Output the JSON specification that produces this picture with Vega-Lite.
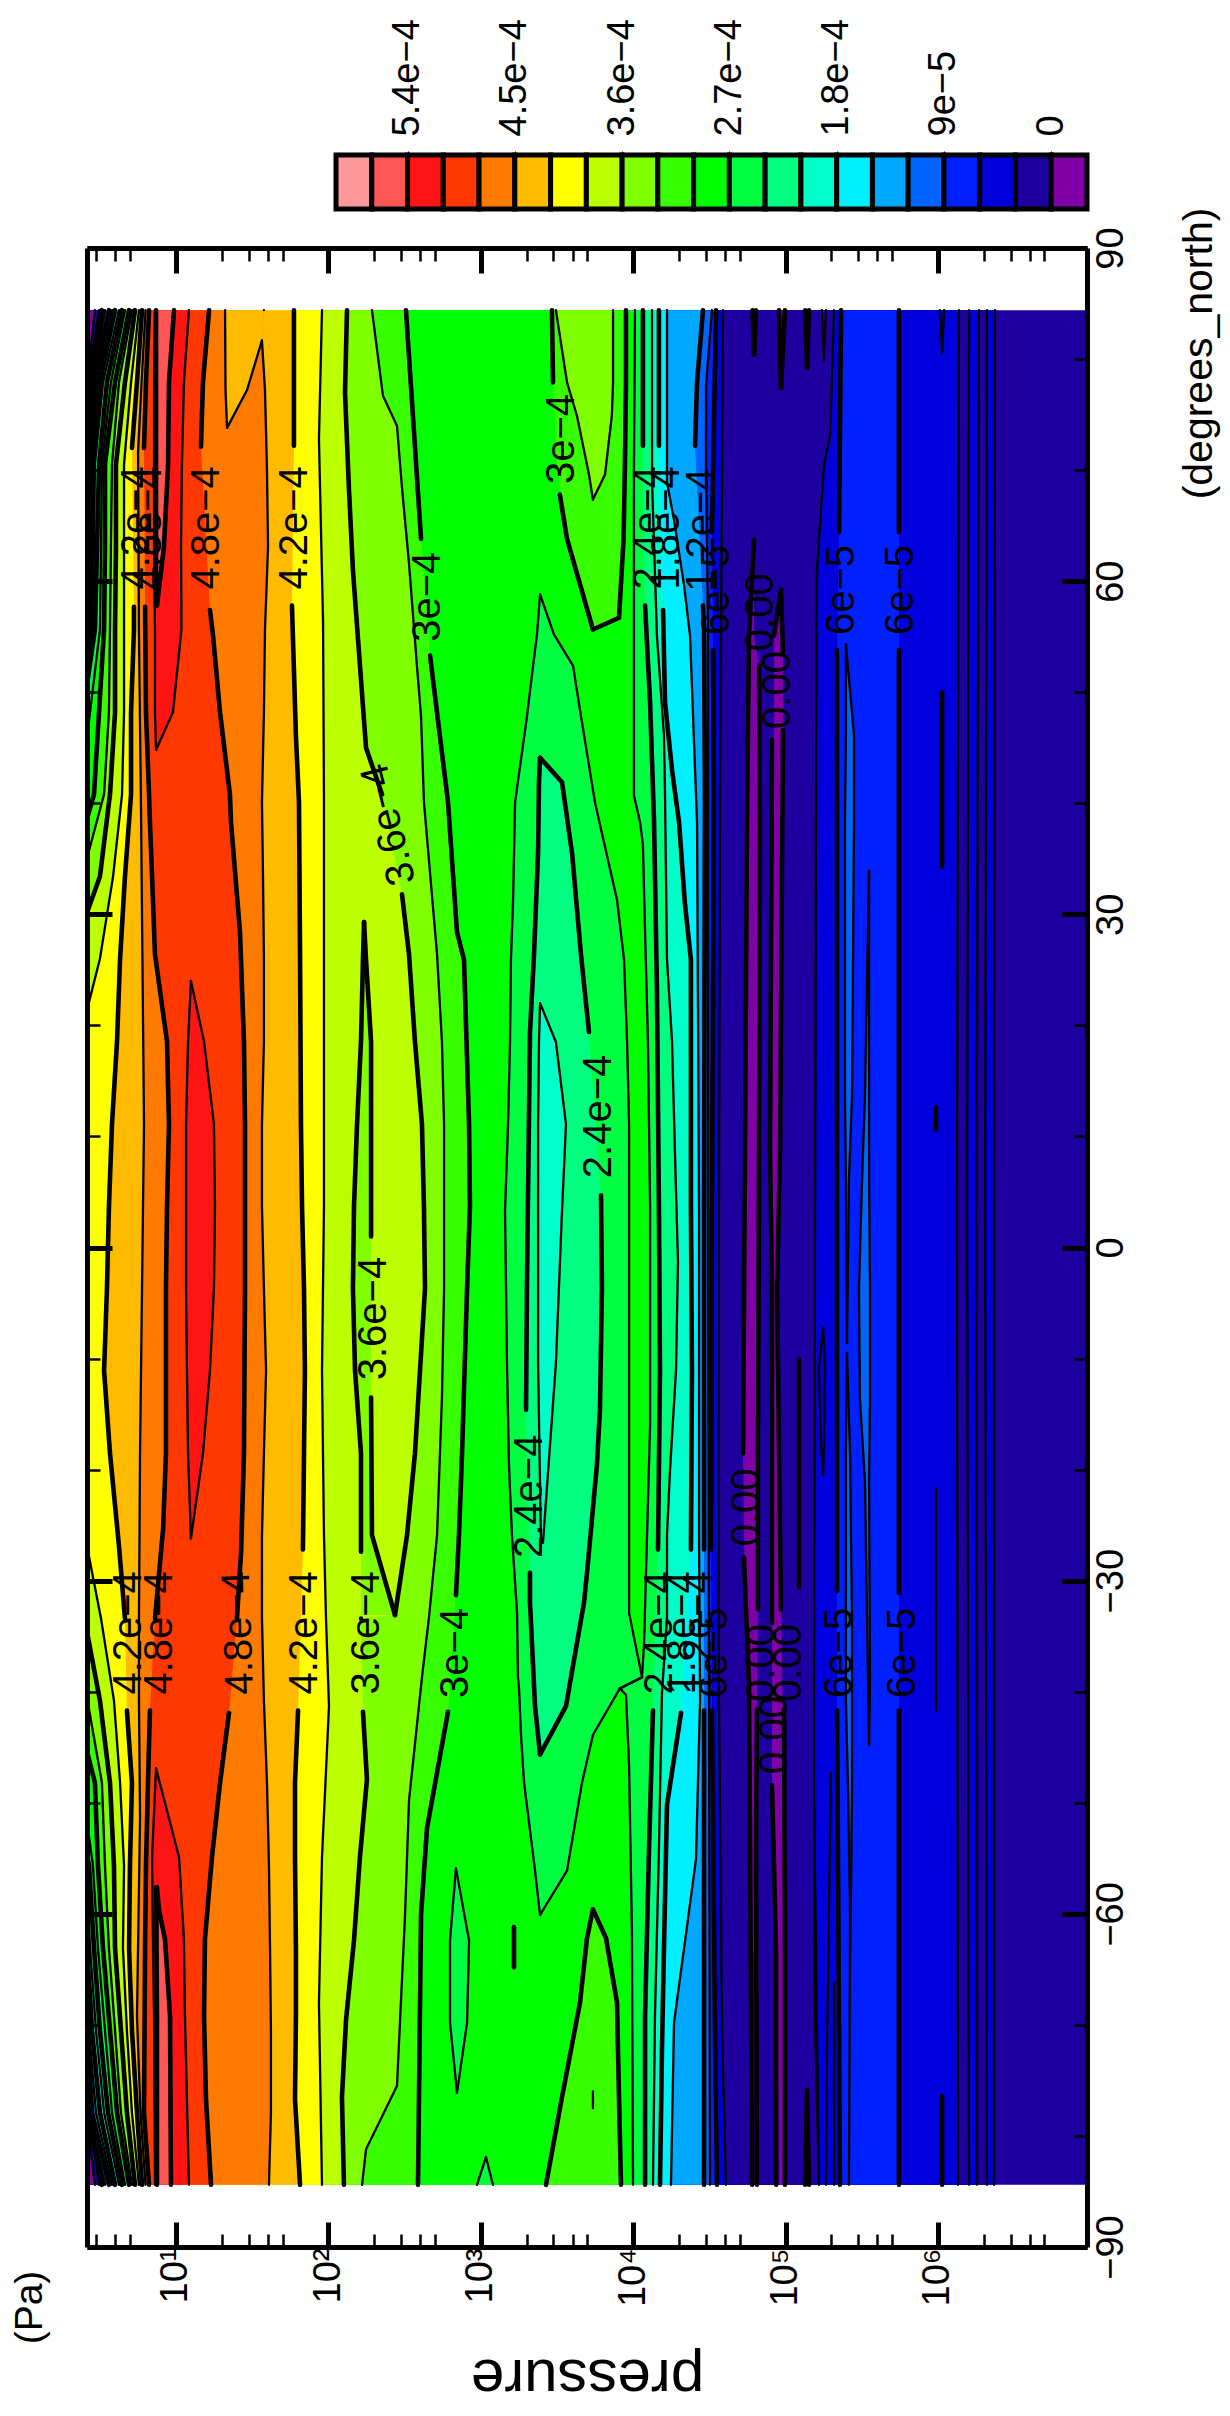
{"$schema":"https://vega.github.io/schema/vega-lite/v6.json","background":"white","padding":{"left":10,"top":18,"right":5,"bottom":5},"config":{"view":{"stroke":null},"font":"Liberation Sans","text":{"font":"Liberation Sans"}},
"resolve":{"scale":{"color":"independent"}},
"datasets":{
"bar":[{"b":"c20","lo":5.7e-4,"hi":6e-4},{"b":"c19","lo":5.4e-4,"hi":5.7e-4},{"b":"c18","lo":5.1e-4,"hi":5.4e-4},{"b":"c17","lo":4.8e-4,"hi":5.1e-4},{"b":"c16","lo":4.5e-4,"hi":4.8e-4},{"b":"c15","lo":4.2e-4,"hi":4.5e-4},{"b":"c14","lo":3.9e-4,"hi":4.2e-4},{"b":"c13","lo":3.6e-4,"hi":3.9e-4},{"b":"c12","lo":3.3e-4,"hi":3.6e-4},{"b":"c11","lo":3e-4,"hi":3.3e-4},{"b":"c10","lo":2.7e-4,"hi":3e-4},{"b":"c09","lo":2.4e-4,"hi":2.7e-4},{"b":"c08","lo":2.1e-4,"hi":2.4e-4},{"b":"c07","lo":1.8e-4,"hi":2.1e-4},{"b":"c06","lo":1.5e-4,"hi":1.8e-4},{"b":"c05","lo":1.2e-4,"hi":1.5e-4},{"b":"c04","lo":9e-5,"hi":1.2e-4},{"b":"c03","lo":6e-5,"hi":9e-5},{"b":"c02","lo":3e-5,"hi":6e-5},{"b":"c01","lo":0,"hi":3e-5},{"b":"c00","lo":-3e-5,"hi":0}],
"main":[
{"k":"a00","lat":84.4,"p":6.978},{"k":"a00","lat":-84.4,"p":6.978},
{"k":"a01","lat":84.4,"p":6.374},{"k":"a01","lat":3.7,"p":6.368},{"k":"a01","lat":-84.4,"p":6.368},
{"k":"a02","lat":84.4,"p":6.322},{"k":"a02","lat":3.7,"p":6.309},{"k":"a02","lat":-84.4,"p":6.322},
{"k":"a03","lat":84.4,"p":6.269},{"k":"a03","lat":3.7,"p":6.253},{"k":"a03","lat":-84.4,"p":6.256},
{"k":"a04","lat":84.4,"p":6.204},{"k":"a04","lat":3.7,"p":6.191},{"k":"a04","lat":-84.4,"p":6.204},
{"k":"a05","lat":84.4,"p":6.138},{"k":"a05","lat":3.7,"p":6.125},{"k":"a05","lat":-84.4,"p":6.132},
{"k":"a06","lat":84.4,"p":5.744},{"k":"a06","lat":64.4,"p":5.744},{"k":"a06","lat":59,"p":null},{"k":"a06","lat":53.8,"p":5.744},{"k":"a06","lat":-31.1,"p":5.744},{"k":"a06","lat":-37,"p":null},{"k":"a06","lat":-41.7,"p":5.744},{"k":"a06","lat":-84.4,"p":5.744},
{"k":"a07","lat":84.4,"p":5.364},{"k":"a07","lat":64.4,"p":5.351},{"k":"a07","lat":59,"p":null},{"k":"a07","lat":53.8,"p":5.338},{"k":"a07","lat":-30.9,"p":5.338},{"k":"a07","lat":-37,"p":null},{"k":"a07","lat":-41.7,"p":5.338},{"k":"a07","lat":-70.5,"p":5.351},{"k":"a07","lat":-84.4,"p":5.357},
{"k":"a08","lat":84.4,"p":5.318},{"k":"a08","lat":73.1,"p":5.292},{"k":"a08","lat":70.4,"p":5.252},{"k":"a08","lat":61,"p":5.206},{"k":"a08","lat":38.3,"p":5.199},{"k":"a08","lat":0,"p":5.193},{"k":"a08","lat":-39.2,"p":5.187},{"k":"a08","lat":-66.2,"p":5.187},{"k":"a08","lat":-84.4,"p":5.219},
{"k":"a09","lat":84.4,"p":4.589},{"k":"a09","lat":40.8,"p":4.57},{"k":"a09","lat":3.7,"p":4.563},{"k":"a09","lat":-40.8,"p":4.563},{"k":"a09","lat":-70.5,"p":4.583},{"k":"a09","lat":-84.4,"p":4.609},
{"k":"a10","lat":84.4,"p":4.544},{"k":"a10","lat":64.4,"p":4.517},{"k":"a10","lat":59,"p":null},{"k":"a10","lat":53.8,"p":4.524},{"k":"a10","lat":40.8,"p":4.53},{"k":"a10","lat":3.7,"p":4.517},{"k":"a10","lat":-27.2,"p":4.511},{"k":"a10","lat":-35,"p":null},{"k":"a10","lat":-41.7,"p":4.517},{"k":"a10","lat":-70.5,"p":4.537},{"k":"a10","lat":-84.4,"p":4.55},
{"k":"a11","lat":84.4,"p":4.517},{"k":"a11","lat":77.6,"p":4.478},{"k":"a11","lat":70.5,"p":4.478},{"k":"a11","lat":55.65,"p":4.491},{"k":"a11","lat":3.7,"p":4.491},{"k":"a11","lat":-40.8,"p":4.498},{"k":"a11","lat":-84.4,"p":4.504},
{"k":"a12","lat":84.4,"p":4.458},{"k":"a12","lat":77.9,"p":4.419},{"k":"a12","lat":72.2,"p":4.406},{"k":"a12","lat":65,"p":null},{"k":"a12","lat":57.8,"p":4.458},{"k":"a12","lat":55.65,"p":4.465},{"k":"a12","lat":40.8,"p":4.471},{"k":"a12","lat":3.7,"p":4.465},{"k":"a12","lat":-27.2,"p":4.465},{"k":"a12","lat":-35,"p":null},{"k":"a12","lat":-41.7,"p":4.465},{"k":"a12","lat":-84.4,"p":4.465},
{"k":"a13","lat":84.4,"p":4.222},{"k":"a13","lat":68.9,"p":4.222},{"k":"a13","lat":65.5,"p":4.268},{"k":"a13","lat":59.6,"p":4.334},{"k":"a13","lat":55.1,"p":4.373},{"k":"a13","lat":38.3,"p":4.419},{"k":"a13","lat":3.7,"p":4.432},{"k":"a13","lat":-26,"p":4.432},{"k":"a13","lat":-40.8,"p":4.439},{"k":"a13","lat":-55.1,"p":4.412},{"k":"a13","lat":-63.1,"p":4.334},{"k":"a13","lat":-69.8,"p":4.268},{"k":"a13","lat":-84.4,"p":4.248},
{"k":"a14","lat":84.4,"p":4.169},{"k":"a14","lat":72.2,"p":4.169},{"k":"a14","lat":65,"p":null},{"k":"a14","lat":57.4,"p":4.196},{"k":"a14","lat":49.1,"p":4.209},{"k":"a14","lat":43,"p":4.255},{"k":"a14","lat":38.3,"p":4.301},{"k":"a14","lat":30.9,"p":4.34},{"k":"a14","lat":25.9,"p":4.379},{"k":"a14","lat":3.7,"p":4.379},{"k":"a14","lat":-11.1,"p":4.386},{"k":"a14","lat":-27.2,"p":4.379},{"k":"a14","lat":-35,"p":null},{"k":"a14","lat":-41.9,"p":4.314},{"k":"a14","lat":-50.2,"p":4.222},{"k":"a14","lat":-63.2,"p":4.202},{"k":"a14","lat":-72.2,"p":4.189},{"k":"a14","lat":-84.4,"p":4.176},
{"k":"a15","lat":84.4,"p":4.124},{"k":"a15","lat":68.9,"p":4.124},{"k":"a15","lat":55.1,"p":4.156},{"k":"a15","lat":46.1,"p":4.202},{"k":"a15","lat":40.8,"p":4.209},{"k":"a15","lat":25.9,"p":4.222},{"k":"a15","lat":18.55,"p":4.255},{"k":"a15","lat":8.6,"p":4.274},{"k":"a15","lat":-1.3,"p":4.294},{"k":"a15","lat":-11.1,"p":4.281},{"k":"a15","lat":-20,"p":4.242},{"k":"a15","lat":-25.9,"p":4.222},{"k":"a15","lat":-33.3,"p":4.222},{"k":"a15","lat":-40.1,"p":4.189},{"k":"a15","lat":-54.2,"p":4.169},{"k":"a15","lat":-69.2,"p":4.143},{"k":"a15","lat":-84.4,"p":4.13},
{"k":"a16","lat":84.4,"p":4.064},{"k":"a16","lat":72.2,"p":4.064},{"k":"a16","lat":65,"p":null},{"k":"a16","lat":57.8,"p":4.078},{"k":"a16","lat":49.1,"p":4.111},{"k":"a16","lat":38.3,"p":4.137},{"k":"a16","lat":23.4,"p":4.156},{"k":"a16","lat":3.7,"p":4.169},{"k":"a16","lat":-11.1,"p":4.176},{"k":"a16","lat":-27.2,"p":4.163},{"k":"a16","lat":-35,"p":null},{"k":"a16","lat":-41.7,"p":4.13},{"k":"a16","lat":-54.2,"p":4.104},{"k":"a16","lat":-69.2,"p":4.078},{"k":"a16","lat":-84.4,"p":4.078},
{"k":"a17","lat":84.4,"p":4.012},{"k":"a17","lat":70.05,"p":4.005},{"k":"a17","lat":40.7,"p":4.005},{"k":"a17","lat":38.3,"p":4.045},{"k":"a17","lat":36.3,"p":4.064},{"k":"a17","lat":28.4,"p":4.078},{"k":"a17","lat":18.55,"p":4.097},{"k":"a17","lat":3.7,"p":4.111},{"k":"a17","lat":-16,"p":4.111},{"k":"a17","lat":-25.9,"p":4.091},{"k":"a17","lat":-35.8,"p":4.071},{"k":"a17","lat":-38.7,"p":4.058},{"k":"a17","lat":-39.7,"p":3.913},{"k":"a17","lat":-40.3,"p":3.953},{"k":"a17","lat":-46.6,"p":3.973},{"k":"a17","lat":-61.7,"p":3.992},{"k":"a17","lat":-84.4,"p":3.999},
{"k":"a18","lat":84.4,"p":2.509},{"k":"a18","lat":63.8,"p":2.608},{"k":"a18","lat":58,"p":null},{"k":"a18","lat":53.3,"p":2.667},{"k":"a18","lat":40.1,"p":2.785},{"k":"a18","lat":28.4,"p":2.844},{"k":"a18","lat":25.9,"p":2.89},{"k":"a18","lat":11.1,"p":2.923},{"k":"a18","lat":3.7,"p":2.929},{"k":"a18","lat":-3.7,"p":2.91},{"k":"a18","lat":-18.55,"p":2.877},{"k":"a18","lat":-25.9,"p":2.857},{"k":"a18","lat":-31.3,"p":2.837},{"k":"a18","lat":-36,"p":null},{"k":"a18","lat":-41.8,"p":2.785},{"k":"a18","lat":-52.3,"p":2.647},{"k":"a18","lat":-60.1,"p":2.608},{"k":"a18","lat":-84.4,"p":2.588},
{"k":"a19","lat":84.4,"p":2.286},{"k":"a19","lat":76.7,"p":2.358},{"k":"a19","lat":74,"p":2.45},{"k":"a19","lat":68.4,"p":2.483},{"k":"a19","lat":61.6,"p":2.529},{"k":"a19","lat":52.4,"p":2.581},{"k":"a19","lat":47.8,"p":2.608},{"k":"a19","lat":40.1,"p":2.627},{"k":"a19","lat":26.4,"p":2.713},{"k":"a19","lat":18.55,"p":2.745},{"k":"a19","lat":11.1,"p":2.759},{"k":"a19","lat":-3.7,"p":2.759},{"k":"a19","lat":-13.6,"p":2.745},{"k":"a19","lat":-25.9,"p":2.713},{"k":"a19","lat":-33.3,"p":2.66},{"k":"a19","lat":-38.7,"p":2.614},{"k":"a19","lat":-49.8,"p":2.529},{"k":"a19","lat":-60.1,"p":2.503},{"k":"a19","lat":-75.5,"p":2.45},{"k":"a19","lat":-81.2,"p":2.247},{"k":"a19","lat":-84.4,"p":2.221},
{"k":"a20","lat":84.4,"p":2.122},{"k":"a20","lat":77,"p":2.109},{"k":"a20","lat":68.3,"p":2.135},{"k":"a20","lat":61,"p":2.161},{"k":"a20","lat":45,"p":2.247},{"k":"a20","lat":40.8,"p":2.352},{"k":"a20","lat":38,"p":null},{"k":"a20","lat":31.8,"p":2.483},{"k":"a20","lat":26.4,"p":2.529},{"k":"a20","lat":18.55,"p":2.568},{"k":"a20","lat":11.1,"p":2.614},{"k":"a20","lat":3.7,"p":2.627},{"k":"a20","lat":-3.7,"p":2.634},{"k":"a20","lat":-11.1,"p":2.601},{"k":"a20","lat":-18.55,"p":2.568},{"k":"a20","lat":-25.9,"p":2.516},{"k":"a20","lat":-33.1,"p":2.437},{"k":"a20","lat":-33.2,"p":null},{"k":"a20","lat":-33.4,"p":2.214},{"k":"a20","lat":-38,"p":null},{"k":"a20","lat":-41.8,"p":2.227},{"k":"a20","lat":-47.9,"p":2.253},{"k":"a20","lat":-54.9,"p":2.207},{"k":"a20","lat":-62.4,"p":2.168},{"k":"a20","lat":-69.5,"p":2.116},{"k":"a20","lat":-76.5,"p":2.089},{"k":"a20","lat":-84.4,"p":2.102},
{"k":"a21","lat":84.4,"p":1.958},{"k":"a21","lat":72.8,"p":1.938},{"k":"a21","lat":56.3,"p":1.965},{"k":"a21","lat":40.1,"p":1.971},{"k":"a21","lat":3.7,"p":1.971},{"k":"a21","lat":-11.1,"p":1.958},{"k":"a21","lat":-25.9,"p":1.971},{"k":"a21","lat":-33.3,"p":1.984},{"k":"a21","lat":-41.3,"p":2.004},{"k":"a21","lat":-54.9,"p":1.958},{"k":"a21","lat":-68,"p":1.938},{"k":"a21","lat":-84.4,"p":1.958},
{"k":"a22","lat":84.4,"p":1.774},{"k":"a22","lat":72.2,"p":1.774},{"k":"a22","lat":65,"p":null},{"k":"a22","lat":57.8,"p":1.761},{"k":"a22","lat":52,"p":1.774},{"k":"a22","lat":46.1,"p":1.787},{"k":"a22","lat":40.1,"p":1.807},{"k":"a22","lat":26.4,"p":1.814},{"k":"a22","lat":11.1,"p":1.82},{"k":"a22","lat":3.7,"p":1.827},{"k":"a22","lat":-3.7,"p":1.84},{"k":"a22","lat":-11.1,"p":1.846},{"k":"a22","lat":-18.55,"p":1.84},{"k":"a22","lat":-27.2,"p":1.833},{"k":"a22","lat":-35,"p":null},{"k":"a22","lat":-41.7,"p":1.801},{"k":"a22","lat":-48.2,"p":1.781},{"k":"a22","lat":-54.9,"p":1.781},{"k":"a22","lat":-63.2,"p":1.787},{"k":"a22","lat":-69.2,"p":1.787},{"k":"a22","lat":-76.7,"p":1.781},{"k":"a22","lat":-84.4,"p":1.814},
{"k":"a23","lat":84.4,"p":1.577},{"k":"a23","lat":83,"p":null},{"k":"a23","lat":81.67,"p":1.564},{"k":"a23","lat":77.2,"p":1.584},{"k":"a23","lat":70.05,"p":1.597},{"k":"a23","lat":63.1,"p":1.604},{"k":"a23","lat":55.65,"p":1.584},{"k":"a23","lat":48.2,"p":1.577},{"k":"a23","lat":40.1,"p":1.564},{"k":"a23","lat":33.4,"p":1.571},{"k":"a23","lat":26,"p":1.577},{"k":"a23","lat":18.55,"p":1.577},{"k":"a23","lat":11.1,"p":1.564},{"k":"a23","lat":3.7,"p":1.564},{"k":"a23","lat":-3.7,"p":1.577},{"k":"a23","lat":-11.1,"p":1.591},{"k":"a23","lat":-18.55,"p":1.577},{"k":"a23","lat":-26,"p":1.564},{"k":"a23","lat":-33.4,"p":1.564},{"k":"a23","lat":-40.8,"p":1.577},{"k":"a23","lat":-48.2,"p":1.597},{"k":"a23","lat":-55.65,"p":1.61},{"k":"a23","lat":-63.1,"p":1.617},{"k":"a23","lat":-70.5,"p":1.623},{"k":"a23","lat":-77.9,"p":1.623},{"k":"a23","lat":-84.4,"p":1.61},
{"k":"a24","lat":84.4,"p":1.217},{"k":"a24","lat":77.9,"p":1.177},{"k":"a24","lat":72.1,"p":1.164},{"k":"a24","lat":65,"p":null},{"k":"a24","lat":57.4,"p":1.223},{"k":"a24","lat":55.1,"p":1.243},{"k":"a24","lat":48.2,"p":1.289},{"k":"a24","lat":40.8,"p":1.354},{"k":"a24","lat":38.3,"p":1.361},{"k":"a24","lat":28.4,"p":1.42},{"k":"a24","lat":18.55,"p":1.446},{"k":"a24","lat":11.1,"p":1.453},{"k":"a24","lat":-3.7,"p":1.453},{"k":"a24","lat":-18.55,"p":1.446},{"k":"a24","lat":-27.5,"p":1.427},{"k":"a24","lat":-33.4,"p":1.4},{"k":"a24","lat":-36,"p":null},{"k":"a24","lat":-41.9,"p":1.348},{"k":"a24","lat":-48.2,"p":1.289},{"k":"a24","lat":-54.9,"p":1.236},{"k":"a24","lat":-62.3,"p":1.19},{"k":"a24","lat":-69.2,"p":1.184},{"k":"a24","lat":-76.7,"p":1.197},{"k":"a24","lat":-84.4,"p":1.23},
{"k":"a25","lat":84.4,"p":0.823},{"k":"a25","lat":77.9,"p":0.803},{"k":"a25","lat":72,"p":0.79},{"k":"a25","lat":65,"p":null},{"k":"a25","lat":57.7,"p":0.797},{"k":"a25","lat":48.2,"p":0.803},{"k":"a25","lat":40.8,"p":0.823},{"k":"a25","lat":38.3,"p":0.829},{"k":"a25","lat":33.4,"p":0.843},{"k":"a25","lat":26.4,"p":0.862},{"k":"a25","lat":18.55,"p":0.941},{"k":"a25","lat":11.1,"p":0.954},{"k":"a25","lat":3.7,"p":0.941},{"k":"a25","lat":-3.7,"p":0.934},{"k":"a25","lat":-18.55,"p":0.934},{"k":"a25","lat":-25.4,"p":0.915},{"k":"a25","lat":-33.4,"p":0.862},{"k":"a25","lat":-36,"p":null},{"k":"a25","lat":-41.7,"p":0.829},{"k":"a25","lat":-48.2,"p":0.816},{"k":"a25","lat":-55.65,"p":0.803},{"k":"a25","lat":-63.1,"p":0.797},{"k":"a25","lat":-77.9,"p":0.79},{"k":"a25","lat":-84.4,"p":0.823},
{"k":"a26","lat":84.4,"p":0.8},{"k":"a26","lat":77.9,"p":0.774},{"k":"a26","lat":71.6,"p":0.751},{"k":"a26","lat":55.1,"p":0.757},{"k":"a26","lat":40.1,"p":0.77},{"k":"a26","lat":11.1,"p":0.79},{"k":"a26","lat":-3.7,"p":0.777},{"k":"a26","lat":-18.55,"p":0.764},{"k":"a26","lat":-33.4,"p":0.757},{"k":"a26","lat":-40.8,"p":0.757},{"k":"a26","lat":-51.4,"p":0.764},{"k":"a26","lat":-69.2,"p":0.744},{"k":"a26","lat":-77.9,"p":0.767},{"k":"a26","lat":-84.4,"p":0.8},
{"k":"a27","lat":84.4,"p":0.777},{"k":"a27","lat":77.9,"p":0.744},{"k":"a27","lat":72,"p":0.711},{"k":"a27","lat":65,"p":null},{"k":"a27","lat":57.7,"p":0.724},{"k":"a27","lat":55.65,"p":0.724},{"k":"a27","lat":48.2,"p":0.705},{"k":"a27","lat":40.8,"p":0.705},{"k":"a27","lat":33.4,"p":0.665},{"k":"a27","lat":26,"p":0.633},{"k":"a27","lat":18.55,"p":0.613},{"k":"a27","lat":11.1,"p":0.58},{"k":"a27","lat":3.7,"p":0.56},{"k":"a27","lat":-3.7,"p":0.547},{"k":"a27","lat":-11.1,"p":0.528},{"k":"a27","lat":-18.55,"p":0.567},{"k":"a27","lat":-26.9,"p":0.626},{"k":"a27","lat":-33.4,"p":0.665},{"k":"a27","lat":-36,"p":null},{"k":"a27","lat":-41.7,"p":0.678},{"k":"a27","lat":-48.2,"p":0.711},{"k":"a27","lat":-55.65,"p":0.698},{"k":"a27","lat":-63.1,"p":0.692},{"k":"a27","lat":-70.5,"p":0.711},{"k":"a27","lat":-77.9,"p":0.744},{"k":"a27","lat":-84.4,"p":0.777},
{"k":"a28","lat":84.4,"p":0.757},{"k":"a28","lat":77.9,"p":0.705},{"k":"a28","lat":70.5,"p":0.659},{"k":"a28","lat":48.2,"p":0.659},{"k":"a28","lat":40.8,"p":0.646},{"k":"a28","lat":33.4,"p":0.587},{"k":"a28","lat":26,"p":0.501},{"k":"a28","lat":21,"p":0.409},{"k":"a28","lat":-26.4,"p":0.409},{"k":"a28","lat":-33.4,"p":0.508},{"k":"a28","lat":-40.8,"p":0.593},{"k":"a28","lat":-48.2,"p":0.633},{"k":"a28","lat":-55.65,"p":0.659},{"k":"a28","lat":-63.1,"p":0.652},{"k":"a28","lat":-70.5,"p":0.678},{"k":"a28","lat":-77.9,"p":0.711},{"k":"a28","lat":-84.4,"p":0.757},
{"k":"a29","lat":84.4,"p":0.731},{"k":"a29","lat":77.9,"p":0.665},{"k":"a29","lat":70.5,"p":0.606},{"k":"a29","lat":63.1,"p":0.606},{"k":"a29","lat":55.65,"p":0.6},{"k":"a29","lat":48.2,"p":0.6},{"k":"a29","lat":40.8,"p":0.567},{"k":"a29","lat":33.4,"p":0.501},{"k":"a29","lat":29.9,"p":0.409},{"k":"a29","lat":-34.1,"p":0.409},{"k":"a29","lat":-40.8,"p":0.501},{"k":"a29","lat":-48.2,"p":0.567},{"k":"a29","lat":-55.65,"p":0.593},{"k":"a29","lat":-63.1,"p":0.6},{"k":"a29","lat":-70.5,"p":0.639},{"k":"a29","lat":-77.9,"p":0.678},{"k":"a29","lat":-84.4,"p":0.731},
{"k":"a30","lat":84.4,"p":0.711},{"k":"a30","lat":77.9,"p":0.626},{"k":"a30","lat":70.5,"p":0.58},{"k":"a30","lat":63.1,"p":0.573},{"k":"a30","lat":55.65,"p":0.567},{"k":"a30","lat":48.2,"p":0.56},{"k":"a30","lat":40.8,"p":0.528},{"k":"a30","lat":34.7,"p":0.409},{"k":"a30","lat":-40,"p":0.409},{"k":"a30","lat":-48.2,"p":0.514},{"k":"a30","lat":-55.65,"p":0.534},{"k":"a30","lat":-63.1,"p":0.56},{"k":"a30","lat":-70.5,"p":0.6},{"k":"a30","lat":-77.9,"p":0.639},{"k":"a30","lat":-84.4,"p":0.711},
{"k":"a31","lat":84.4,"p":0.692},{"k":"a31","lat":77.9,"p":0.6},{"k":"a31","lat":70.5,"p":0.534},{"k":"a31","lat":63.1,"p":0.534},{"k":"a31","lat":55.65,"p":0.528},{"k":"a31","lat":48.2,"p":0.495},{"k":"a31","lat":40.8,"p":0.462},{"k":"a31","lat":38.3,"p":0.409},{"k":"a31","lat":-45,"p":0.409},{"k":"a31","lat":-48.2,"p":0.468},{"k":"a31","lat":-55.65,"p":0.488},{"k":"a31","lat":-63.1,"p":0.521},{"k":"a31","lat":-70.5,"p":0.567},{"k":"a31","lat":-77.9,"p":0.613},{"k":"a31","lat":-84.4,"p":0.692},
{"k":"a32","lat":84.4,"p":0.665},{"k":"a32","lat":77.9,"p":0.573},{"k":"a32","lat":70.5,"p":0.514},{"k":"a32","lat":63.1,"p":0.508},{"k":"a32","lat":55.65,"p":0.501},{"k":"a32","lat":48.2,"p":0.436},{"k":"a32","lat":45,"p":0.409},{"k":"a32","lat":-51,"p":0.409},{"k":"a32","lat":-55.65,"p":0.455},{"k":"a32","lat":-63.1,"p":0.488},{"k":"a32","lat":-70.5,"p":0.534},{"k":"a32","lat":-77.9,"p":0.58},{"k":"a32","lat":-84.4,"p":0.665},
{"k":"a33","lat":84.4,"p":0.646},{"k":"a33","lat":77.9,"p":0.547},{"k":"a33","lat":70.5,"p":0.495},{"k":"a33","lat":63.1,"p":0.482},{"k":"a33","lat":55.65,"p":0.468},{"k":"a33","lat":50,"p":0.409},{"k":"a33","lat":-54,"p":0.409},{"k":"a33","lat":-55.65,"p":0.429},{"k":"a33","lat":-63.1,"p":0.462},{"k":"a33","lat":-70.5,"p":0.501},{"k":"a33","lat":-77.9,"p":0.554},{"k":"a33","lat":-84.4,"p":0.646},
{"k":"a34","lat":84.4,"p":0.626},{"k":"a34","lat":77.9,"p":0.521},{"k":"a34","lat":70.5,"p":0.468},{"k":"a34","lat":63.1,"p":0.462},{"k":"a34","lat":55.65,"p":0.449},{"k":"a34","lat":52,"p":0.409},{"k":"a34","lat":-55,"p":0.409},{"k":"a34","lat":-63.1,"p":0.436},{"k":"a34","lat":-70.5,"p":0.475},{"k":"a34","lat":-77.9,"p":0.528},{"k":"a34","lat":-84.4,"p":0.626},
{"k":"a35","lat":84.4,"p":0.6},{"k":"a35","lat":77.9,"p":0.501},{"k":"a35","lat":70.5,"p":0.455},{"k":"a35","lat":63.1,"p":0.442},{"k":"a35","lat":55.65,"p":0.436},{"k":"a35","lat":53,"p":0.409},{"k":"a35","lat":-58,"p":0.409},{"k":"a35","lat":-63.1,"p":0.416},{"k":"a35","lat":-70.5,"p":0.449},{"k":"a35","lat":-77.9,"p":0.501},{"k":"a35","lat":-84.4,"p":0.6},
{"k":"a36","lat":84.4,"p":0.58},{"k":"a36","lat":77.9,"p":0.482},{"k":"a36","lat":70.5,"p":0.442},{"k":"a36","lat":63.1,"p":0.429},{"k":"a36","lat":55.65,"p":0.423},{"k":"a36","lat":54,"p":0.409},{"k":"a36","lat":-62,"p":0.409},{"k":"a36","lat":-70.5,"p":0.429},{"k":"a36","lat":-77.9,"p":0.475},{"k":"a36","lat":-84.4,"p":0.58},
{"k":"a37","lat":84.4,"p":0.56},{"k":"a37","lat":77.9,"p":0.462},{"k":"a37","lat":70.5,"p":0.429},{"k":"a37","lat":63.1,"p":0.416},{"k":"a37","lat":57,"p":0.409},{"k":"a37","lat":-65,"p":0.409},{"k":"a37","lat":-70.5,"p":0.416},{"k":"a37","lat":-77.9,"p":0.449},{"k":"a37","lat":-84.4,"p":0.56},
{"k":"a38","lat":84.4,"p":0.534},{"k":"a38","lat":77.9,"p":0.449},{"k":"a38","lat":70.5,"p":0.423},{"k":"a38","lat":65,"p":0.409},{"k":"a38","lat":-68,"p":0.409},{"k":"a38","lat":-77.9,"p":0.429},{"k":"a38","lat":-84.4,"p":0.534},
{"k":"a39","lat":84.4,"p":0.514},{"k":"a39","lat":77.9,"p":0.436},{"k":"a39","lat":70.5,"p":0.416},{"k":"a39","lat":67,"p":0.409},{"k":"a39","lat":-72,"p":0.409},{"k":"a39","lat":-77.9,"p":0.416},{"k":"a39","lat":-84.4,"p":0.514},
{"k":"a40","lat":84.4,"p":0.495},{"k":"a40","lat":77.9,"p":0.423},{"k":"a40","lat":71,"p":0.409},{"k":"a40","lat":-76,"p":0.409},{"k":"a40","lat":-84.4,"p":0.495},
{"k":"a41","lat":84.4,"p":0.468},{"k":"a41","lat":77.9,"p":0.416},{"k":"a41","lat":74,"p":0.409},{"k":"a41","lat":-78,"p":0.409},{"k":"a41","lat":-84.4,"p":0.468}
],
"isl":[
{"k":"n1","lat":84.4,"a":0.862,"b":1.085},{"k":"n1","lat":77.9,"a":0.856,"b":1.052},{"k":"n1","lat":70.5,"a":0.856,"b":1.039},{"k":"n1","lat":63.1,"a":0.856,"b":1.033},{"k":"n1","lat":55.65,"a":0.862,"b":1.036},{"k":"n1","lat":48.2,"a":0.862,"b":0.98},{"k":"n1","lat":44.8,"a":0.869,"b":0.869},
{"k":"n2","lat":24,"a":1.098,"b":1.098},{"k":"n2","lat":18.55,"a":1.079,"b":1.184},{"k":"n2","lat":11.1,"a":1.066,"b":1.249},{"k":"n2","lat":3.7,"a":1.066,"b":1.256},{"k":"n2","lat":-3.7,"a":1.066,"b":1.249},{"k":"n2","lat":-11.1,"a":1.072,"b":1.223},{"k":"n2","lat":-18.55,"a":1.079,"b":1.177},{"k":"n2","lat":-26.2,"a":1.098,"b":1.098},
{"k":"n3","lat":-46.9,"a":0.869,"b":0.869},{"k":"n3","lat":-54.9,"a":0.843,"b":1.02},{"k":"n3","lat":-62.3,"a":0.849,"b":1.052},{"k":"n3","lat":-69.2,"a":0.856,"b":1.059},{"k":"n3","lat":-84.4,"a":0.862,"b":1.085},
{"k":"k1","lat":84.4,"a":0.869,"b":0.987},{"k":"k1","lat":77.9,"a":0.869,"b":0.954},{"k":"k1","lat":70.5,"a":0.869,"b":0.948},{"k":"k1","lat":63.1,"a":0.869,"b":0.921},{"k":"k1","lat":57.8,"a":0.869,"b":0.875},
{"k":"k2","lat":-57.6,"a":0.869,"b":0.875},{"k":"k2","lat":-59.6,"a":0.872,"b":0.888},{"k":"k2","lat":-62.3,"a":0.872,"b":0.928},{"k":"k2","lat":-69.2,"a":0.875,"b":0.961},{"k":"k2","lat":-84.4,"a":0.875,"b":0.967},
{"k":"x1","lat":84.4,"a":1.322,"b":1.577},{"k":"x1","lat":81.67,"a":1.322,"b":1.564},{"k":"x1","lat":77.2,"a":1.325,"b":1.466},{"k":"x1","lat":73.8,"a":1.335,"b":1.335},
{"k":"x2","lat":29.3,"a":2.234,"b":2.234},{"k":"x2","lat":25.9,"a":2.227,"b":2.247},{"k":"x2","lat":18.55,"a":2.214,"b":2.28},{"k":"x2","lat":11.1,"a":2.188,"b":2.28},{"k":"x2","lat":3.7,"a":2.168,"b":2.28},{"k":"x2","lat":-3.7,"a":2.161,"b":2.28},{"k":"x2","lat":-11.1,"a":2.175,"b":2.28},{"k":"x2","lat":-18.55,"a":2.214,"b":2.28},{"k":"x2","lat":-25.9,"a":2.214,"b":2.286},{"k":"x2","lat":-33.1,"a":2.214,"b":2.437},
{"k":"x3","lat":84.4,"a":3.467,"b":3.953},{"k":"x3","lat":77.9,"a":3.474,"b":3.953},{"k":"x3","lat":70.5,"a":3.5,"b":3.946},{"k":"x3","lat":63.8,"a":3.566,"b":3.937},{"k":"x3","lat":56.7,"a":3.723,"b":3.907},{"k":"x3","lat":55.65,"a":3.736,"b":3.743},
{"k":"n4","lat":84.4,"a":3.493,"b":3.868},{"k":"n4","lat":77.9,"a":3.566,"b":3.868},{"k":"n4","lat":74.9,"a":3.631,"b":3.86},{"k":"n4","lat":69.6,"a":3.71,"b":3.815},{"k":"n4","lat":67.35,"a":3.736,"b":3.736},
{"k":"n5","lat":58.8,"a":3.389,"b":3.389},{"k":"n5","lat":55.2,"a":3.369,"b":3.48},{"k":"n5","lat":52.4,"a":3.343,"b":3.605},{"k":"n5","lat":47.8,"a":3.303,"b":3.658},{"k":"n5","lat":40.1,"a":3.225,"b":3.749},{"k":"n5","lat":31.3,"a":3.212,"b":3.894},{"k":"n5","lat":25.9,"a":3.198,"b":3.94},{"k":"n5","lat":18.55,"a":3.192,"b":3.96},{"k":"n5","lat":11.1,"a":3.179,"b":3.973},{"k":"n5","lat":3.3,"a":3.159,"b":3.973},{"k":"n5","lat":-10.4,"a":3.172,"b":3.973},{"k":"n5","lat":-19.6,"a":3.185,"b":3.973},{"k":"n5","lat":-26,"a":3.205,"b":3.973},{"k":"n5","lat":-32.9,"a":3.238,"b":3.973},{"k":"n5","lat":-38.7,"a":3.244,"b":4.058},{"k":"n5","lat":-39.7,"a":3.251,"b":3.913},{"k":"n5","lat":-43.9,"a":3.264,"b":3.736},{"k":"n5","lat":-48.2,"a":3.284,"b":3.664},{"k":"n5","lat":-56.1,"a":3.356,"b":3.566},{"k":"n5","lat":-60.1,"a":3.389,"b":3.389},
{"k":"x4","lat":44.1,"a":3.389,"b":3.389},{"k":"x4","lat":41.9,"a":3.382,"b":3.533},{"k":"x4","lat":35.5,"a":3.376,"b":3.599},{"k":"x4","lat":26.3,"a":3.349,"b":3.658},{"k":"x4","lat":19.4,"a":3.323,"b":3.71},{"k":"x4","lat":4.7,"a":3.31,"b":3.789},{"k":"x4","lat":-3.6,"a":3.303,"b":3.795},{"k":"x4","lat":-14.6,"a":3.297,"b":3.782},{"k":"x4","lat":-19.6,"a":3.303,"b":3.762},{"k":"x4","lat":-29.3,"a":3.323,"b":3.697},{"k":"x4","lat":-32,"a":3.323,"b":3.677},{"k":"x4","lat":-41.3,"a":3.356,"b":3.559},{"k":"x4","lat":-45.65,"a":3.389,"b":3.389},
{"k":"n6","lat":22,"a":3.389,"b":3.389},{"k":"n6","lat":18.5,"a":3.382,"b":3.493},{"k":"n6","lat":11.1,"a":3.376,"b":3.559},{"k":"n6","lat":3.3,"a":3.376,"b":3.533},{"k":"n6","lat":-10.4,"a":3.376,"b":3.493},{"k":"n6","lat":-26.6,"a":3.395,"b":3.408},
{"k":"n7","lat":-55.9,"a":2.837,"b":2.837},{"k":"n7","lat":-62.4,"a":2.798,"b":2.923},{"k":"n7","lat":-69.8,"a":2.798,"b":2.91},{"k":"n7","lat":-76.1,"a":2.844,"b":2.844},
{"k":"k3","lat":-59.6,"a":3.736,"b":3.736},{"k":"k3","lat":-62.2,"a":3.697,"b":3.822},{"k":"k3","lat":-68,"a":3.651,"b":3.894},{"k":"k3","lat":-76.5,"a":3.533,"b":3.907},{"k":"k3","lat":-84.4,"a":3.428,"b":3.92},
{"k":"n8","lat":-81.9,"a":3.034,"b":3.034},{"k":"n8","lat":-84.4,"a":2.975,"b":3.08},
{"k":"xp1","lat":63.75,"a":4.793,"b":4.793},{"k":"xp1","lat":55.1,"a":4.76,"b":4.793},{"k":"xp1","lat":52.4,"a":4.76,"b":4.826},{"k":"xp1","lat":38.3,"a":4.747,"b":4.832},{"k":"xp1","lat":8.6,"a":4.734,"b":4.826},{"k":"xp1","lat":-18.55,"a":4.721,"b":4.819},{"k":"xp1","lat":-32.6,"a":4.734,"b":4.819},{"k":"xp1","lat":-41.6,"a":4.76,"b":4.812},{"k":"xp1","lat":-54.2,"a":4.767,"b":4.806},{"k":"xp1","lat":-63.5,"a":4.786,"b":4.793},
{"k":"xp2","lat":59.25,"a":4.97,"b":4.97},{"k":"xp2","lat":55.1,"a":4.924,"b":4.983},{"k":"xp2","lat":38.3,"a":4.924,"b":4.99},{"k":"xp2","lat":8.6,"a":4.898,"b":4.964},{"k":"xp2","lat":-3.7,"a":4.911,"b":4.944},{"k":"xp2","lat":-32.6,"a":4.911,"b":4.97},{"k":"xp2","lat":-48.4,"a":4.911,"b":4.99},{"k":"xp2","lat":-63.5,"a":4.944,"b":4.996},{"k":"xp2","lat":-84.4,"a":4.957,"b":4.983},
{"k":"k4","lat":84.4,"a":4.957,"b":4.996},{"k":"k4","lat":77.4,"a":4.97,"b":4.97},
{"k":"n9","lat":54.3,"a":5.396,"b":5.396},{"k":"n9","lat":46.1,"a":5.396,"b":5.449},{"k":"n9","lat":38.3,"a":5.39,"b":5.449},{"k":"n9","lat":13.6,"a":5.39,"b":5.436},{"k":"n9","lat":6.1,"a":5.396,"b":5.416},{"k":"n9","lat":-8.6,"a":5.403,"b":5.403},
{"k":"n10","lat":-9.5,"a":5.403,"b":5.403},{"k":"n10","lat":-18.55,"a":5.396,"b":5.423},{"k":"n10","lat":-33.4,"a":5.396,"b":5.436},{"k":"n10","lat":-40.8,"a":5.396,"b":5.436},{"k":"n10","lat":-48.2,"a":5.409,"b":5.436},{"k":"n10","lat":-59,"a":5.423,"b":5.429},{"k":"n10","lat":-63.5,"a":5.423,"b":5.423},
{"k":"n11","lat":33.9,"a":5.548,"b":5.548},{"k":"n11","lat":13.6,"a":5.521,"b":5.548},{"k":"n11","lat":6.1,"a":5.502,"b":5.548},{"k":"n11","lat":-3.7,"a":5.482,"b":5.554},{"k":"n11","lat":-13.6,"a":5.488,"b":5.554},{"k":"n11","lat":-21,"a":5.521,"b":5.548},{"k":"n11","lat":-38.8,"a":5.541,"b":5.554},{"k":"n11","lat":-44.8,"a":5.548,"b":5.548},
{"k":"n12","lat":-7.2,"a":5.246,"b":5.246},{"k":"n12","lat":-10.9,"a":5.219,"b":5.259},{"k":"n12","lat":-17.6,"a":5.232,"b":5.252},{"k":"n12","lat":-20.5,"a":5.246,"b":5.246}
],
"thick":[
{"s":"h1","lat":84.4,"p":3.467},{"s":"h1","lat":77.9,"p":3.474},
{"s":"h2","lat":67.8,"p":3.519},{"s":"h2","lat":63.8,"p":3.566},{"s":"h2","lat":55.65,"p":3.736},
{"s":"h3","lat":84.4,"p":3.953},{"s":"h3","lat":77.9,"p":3.953},{"s":"h3","lat":70.5,"p":3.946},{"s":"h3","lat":63.8,"p":3.937},{"s":"h3","lat":56.7,"p":3.907},{"s":"h3","lat":55.65,"p":3.736},
{"s":"g1","lat":29.3,"p":2.234},{"s":"g1","lat":25.9,"p":2.227},{"s":"g1","lat":18.55,"p":2.214},{"s":"g1","lat":11.1,"p":2.188},{"s":"g1","lat":3.7,"p":2.168},{"s":"g1","lat":-3.7,"p":2.161},{"s":"g1","lat":-11.1,"p":2.175},{"s":"g1","lat":-18.55,"p":2.214},{"s":"g1","lat":-27.4,"p":2.214},
{"s":"g2","lat":29.3,"p":2.234},{"s":"g2","lat":25.9,"p":2.247},{"s":"g2","lat":18.55,"p":2.28},{"s":"g2","lat":1,"p":2.28},
{"s":"g3","lat":-13.5,"p":2.28},{"s":"g3","lat":-25.9,"p":2.286},{"s":"g3","lat":-33.1,"p":2.437},
{"s":"l1","lat":44.1,"p":3.389},{"s":"l1","lat":41.9,"p":3.382},{"s":"l1","lat":35.5,"p":3.376},{"s":"l1","lat":26.3,"p":3.349},{"s":"l1","lat":19.4,"p":3.323},{"s":"l1","lat":4.7,"p":3.31},{"s":"l1","lat":-3.6,"p":3.303},{"s":"l1","lat":-14.6,"p":3.297},
{"s":"l2","lat":-29.3,"p":3.323},{"s":"l2","lat":-32,"p":3.323},{"s":"l2","lat":-41.3,"p":3.356},{"s":"l2","lat":-45.65,"p":3.389},
{"s":"l3","lat":44.1,"p":3.389},{"s":"l3","lat":41.9,"p":3.533},{"s":"l3","lat":35.5,"p":3.599},{"s":"l3","lat":26.3,"p":3.658},{"s":"l3","lat":19.4,"p":3.71},
{"s":"l4","lat":4.7,"p":3.789},{"s":"l4","lat":-3.6,"p":3.795},{"s":"l4","lat":-14.6,"p":3.782},{"s":"l4","lat":-19.6,"p":3.762},{"s":"l4","lat":-29.3,"p":3.697},{"s":"l4","lat":-32,"p":3.677},{"s":"l4","lat":-41.3,"p":3.559},{"s":"l4","lat":-45.65,"p":3.389},
{"s":"p1","lat":63.75,"p":4.793},{"s":"p1","lat":55.1,"p":4.76},{"s":"p1","lat":38.3,"p":4.747},{"s":"p1","lat":8.6,"p":4.734},{"s":"p1","lat":-18.55,"p":4.721},
{"s":"p2","lat":-27.9,"p":4.727},{"s":"p2","lat":-39.2,"p":4.76},{"s":"p2","lat":-54.2,"p":4.767},{"s":"p2","lat":-84.4,"p":4.78},
{"s":"p3","lat":52.4,"p":4.826},{"s":"p3","lat":38.3,"p":4.832},{"s":"p3","lat":8.6,"p":4.826},{"s":"p3","lat":-18.55,"p":4.819},{"s":"p3","lat":-32.6,"p":4.819},
{"s":"p4","lat":-41.6,"p":4.812},{"s":"p4","lat":-54.2,"p":4.806},{"s":"p4","lat":-84.4,"p":4.812},
{"s":"p5","lat":59.25,"p":4.97},{"s":"p5","lat":55.1,"p":4.924},
{"s":"p6","lat":45.7,"p":4.911},{"s":"p6","lat":8.6,"p":4.898},{"s":"p6","lat":-3.7,"p":4.911},{"s":"p6","lat":-33.8,"p":4.911},
{"s":"p7","lat":-48.4,"p":4.911},{"s":"p7","lat":-63.5,"p":4.938},{"s":"p7","lat":-84.4,"p":4.938},
{"s":"p8","lat":59,"p":4.97},{"s":"p8","lat":53.6,"p":4.983},
{"s":"p9","lat":46.6,"p":4.983},{"s":"p9","lat":8.6,"p":4.964},{"s":"p9","lat":-3.7,"p":4.944},{"s":"p9","lat":-32.6,"p":4.97},
{"s":"p10","lat":-41.6,"p":4.99},{"s":"p10","lat":-63.5,"p":4.996},{"s":"p10","lat":-84.4,"p":4.996},
{"s":"w1","lat":84.4,"p":4.783},{"s":"w1","lat":80.4,"p":4.793},{"s":"w2","lat":84.4,"p":4.806},{"s":"w2","lat":80.4,"p":4.793},
{"s":"w3","lat":84.4,"p":5.128},{"s":"w3","lat":79.2,"p":5.141},{"s":"w4","lat":84.4,"p":5.154},{"s":"w4","lat":79.2,"p":5.141},
{"s":"w5","lat":-75.9,"p":5.141},{"s":"w5","lat":-84.4,"p":5.128},{"s":"w6","lat":-75.9,"p":5.141},{"s":"w6","lat":-84.4,"p":5.154},
{"s":"t1","lat":50,"p":6.027},{"s":"t1","lat":34.3,"p":6.027},
{"s":"t2","lat":12.6,"p":5.987},{"s":"t2","lat":10.6,"p":5.987},
{"s":"t3","lat":-76.4,"p":6.027},{"s":"t3","lat":-84.4,"p":6.027},
{"s":"t4","lat":-10.1,"p":5.088},{"s":"t4","lat":-30.6,"p":5.088},
{"s":"t5","lat":-61.2,"p":3.218},{"s":"t5","lat":-64.8,"p":3.218}
],
"thin":[
{"s":"x1a","lat":84.4,"p":1.322},{"s":"x1a","lat":77.2,"p":1.325},{"s":"x1a","lat":73.8,"p":1.335},
{"s":"x1b","lat":81.67,"p":1.564},{"s":"x1b","lat":77.2,"p":1.466},{"s":"x1b","lat":73.8,"p":1.335},
{"s":"u1","lat":84.4,"p":6.013},{"s":"u1","lat":80.6,"p":6.027},{"s":"u2","lat":84.4,"p":6.04},{"s":"u2","lat":80.6,"p":6.027},
{"s":"u3","lat":84.4,"p":5.239},{"s":"u3","lat":79.9,"p":5.252},{"s":"u4","lat":84.4,"p":5.265},{"s":"u4","lat":79.9,"p":5.252},
{"s":"u5","lat":-21.7,"p":5.987},{"s":"u5","lat":-41.7,"p":5.987},
{"s":"u6","lat":-47.3,"p":5.298},{"s":"u6","lat":-59,"p":5.285},{"s":"u6","lat":-72.5,"p":5.272},{"s":"u6","lat":-84.4,"p":5.265},
{"s":"u7","lat":-66.2,"p":5.318},{"s":"u7","lat":-84.4,"p":5.318},
{"s":"u8","lat":-63.5,"p":5.423},{"s":"u8","lat":-84.4,"p":5.416},
{"s":"u9","lat":-76,"p":3.736},{"s":"u9","lat":-77.5,"p":3.736},
{"s":"u10","lat":-50,"p":5.187},{"s":"u10","lat":-84.4,"p":5.219}
],
"labels":[
{"t":"4.2e−4","lat":64.8,"p":0.744,"r":270},{"t":"4.8e−4","lat":64.8,"p":0.823,"r":270},{"t":"4.8e−4","lat":64.8,"p":1.203,"r":270},{"t":"4.2e−4","lat":64.8,"p":1.781,"r":270},{"t":"3e−4","lat":58.6,"p":2.654,"r":270},{"t":"3e−4","lat":72.8,"p":3.533,"r":270},{"t":"3.6e−4","lat":38.1,"p":2.398,"r":256},{"t":"2.4e−4","lat":64.8,"p":4.104,"r":270},{"t":"1.8e−4","lat":64.8,"p":4.222,"r":270},{"t":"1.2e−4","lat":64.6,"p":4.451,"r":270},{"t":"6e−5","lat":59.2,"p":4.55,"r":270},{"t":"0.00","lat":57.2,"p":4.839,"r":270},{"t":"0.00","lat":50.2,"p":4.951,"r":270},{"t":"6e−5","lat":59.2,"p":5.37,"r":270},{"t":"6e−5","lat":59.2,"p":5.757,"r":270},
{"t":"3.6e−4","lat":-6.4,"p":2.299,"r":270},{"t":"2.4e−4","lat":11.8,"p":3.775,"r":270},{"t":"2.4e−4","lat":-22.4,"p":3.323,"r":270},{"t":"0.00","lat":-23.4,"p":4.747,"r":270},
{"t":"4.2e−4","lat":-34.7,"p":0.692,"r":270},{"t":"4.8e−4","lat":-34.7,"p":0.895,"r":270},{"t":"4.8e−4","lat":-34.7,"p":1.413,"r":268},{"t":"4.2e−4","lat":-34.7,"p":1.846,"r":270},{"t":"3.6e−4","lat":-34.7,"p":2.253,"r":270},{"t":"3e−4","lat":-36.5,"p":2.837,"r":270},{"t":"2.4e−4","lat":-34.7,"p":4.176,"r":270},{"t":"1.8e−4","lat":-34.7,"p":4.327,"r":270},{"t":"1.2e−4","lat":-34.7,"p":4.432,"r":270},{"t":"6e−5","lat":-36.5,"p":4.537,"r":270},{"t":"0.00","lat":-37.4,"p":4.845,"r":270},{"t":"0.00","lat":-37.4,"p":5.022,"r":270},{"t":"0.00","lat":-43.9,"p":4.931,"r":270},{"t":"6e−5","lat":-36.5,"p":5.357,"r":270},{"t":"6e−5","lat":-36.5,"p":5.77,"r":270}
]
},
"vconcat":[
{"width":1000,"height":54,"data":{"name":"bar"},"mark":{"type":"rect","stroke":"black","strokeWidth":5},
"encoding":{"x":{"field":"lo","type":"quantitative","scale":{"domain":[8.089e-4,-3e-5],"nice":false,"zero":false},
"axis":{"orient":"top","values":[0,9e-5,1.8e-4,2.7e-4,3.6e-4,4.5e-4,5.4e-4],"labelExpr":"datum.value==0?'0':replace(format(datum.value,'~e'),'-','−')","labelAngle":270,"labelAlign":"left","labelBaseline":"middle","labelFontSize":38,"labelFont":"Liberation Sans","labelColor":"black","labelPadding":15,"tickSize":4,"tickWidth":1,"tickColor":"black","domain":false,"grid":false,"title":null}},
"x2":{"field":"hi"},
"color":{"field":"b","type":"nominal","legend":null,"scale":{"domain":["c00","c01","c02","c03","c04","c05","c06","c07","c08","c09","c10","c11","c12","c13","c14","c15","c16","c17","c18","c19","c20"],"range":["#8000A8","#1E00A0","#0000DC","#0020FF","#0064FF","#00A8FF","#00F0FF","#00FFC8","#00FF80","#00FF40","#00FF00","#38FF00","#80FF00","#BBFF00","#FFFF00","#FFBB00","#FF7B00","#FF3700","#FF1414","#FF5555","#FF9999"]}}}},
{"width":1000,"height":1999,
"resolve":{"axis":{"x":"independent","y":"independent"}},
"layer":[
{"data":{"name":"main"},"transform":[{"filter":"isValid(datum.p)"}],"mark":{"type":"area","orient":"horizontal","clip":true},
"encoding":{"x":{"field":"p","type":"quantitative","stack":null,"scale":{"domain":[0.416,6.978],"nice":false,"zero":false},
"axis":{"orient":"bottom","values":[1,2,3,4,5,6],"labelExpr":"'10'+['','¹','²','³','⁴','⁵','⁶'][datum.value]","labelAngle":270,"labelAlign":"right","labelBaseline":"middle","labelFontSize":38,"labelFont":"Liberation Sans","labelColor":"black","labelPadding":26,"tickSize":-25,"tickWidth":5,"tickColor":"black","domain":true,"domainWidth":5,"domainColor":"black","grid":false,"zindex":1,"title":"pressure","titleFont":"Liberation Sans","titleFontSize":60,"titleFontWeight":"normal","titleColor":"black","titleAngle":180,"titleX":500,"titleY":130,"titleAlign":"center","titleBaseline":"middle"}},
"x2":{"datum":0.416},
"y":{"field":"lat","type":"quantitative","scale":{"domain":[-90,90],"nice":false,"zero":false},
"axis":{"orient":"right","values":[-90,-60,-30,0,30,60,90],"labelExpr":"replace(format(datum.value,'d'),'-','−')","labelAngle":270,"labelAlign":"center","labelBaseline":"top","labelFontSize":38,"labelFont":"Liberation Sans","labelColor":"black","labelPadding":30,"tickSize":-25,"tickWidth":5,"tickColor":"black","domain":true,"domainWidth":5,"domainColor":"black","grid":false,"zindex":1,"title":null}},
"color":{"field":"k","type":"nominal","legend":null,"scale":{"domain":["a00","a01","a02","a03","a04","a05","a06","a07","a08","a09","a10","a11","a12","a13","a14","a15","a16","a17","a18","a19","a20","a21","a22","a23","a24","a25","a26","a27","a28","a29","a30","a31","a32","a33","a34","a35","a36","a37","a38","a39","a40","a41","n1","n2","n3","k1","k2","x1","x2","x3","n4","n5","x4","n6","n7","k3","n8","xp1","xp2","k4","n9","n10","n11","n12"],
"range":["#1E00A0","#0000DC","#1E00A0","#0000DC","#1E00A0","#0000DC","#0020FF","#0000DC","#1E00A0","#0000DC","#0020FF","#0064FF","#00A8FF","#00F0FF","#00FFC8","#00FF80","#00FF40","#00FF00","#38FF00","#80FF00","#BBFF00","#FFFF00","#FFBB00","#FF7B00","#FF3700","#FF7B00","#FFBB00","#FFFF00","#BBFF00","#80FF00","#38FF00","#00FF00","#00FF40","#00FF80","#00FFC8","#00F0FF","#00A8FF","#0064FF","#0020FF","#0000DC","#1E00A0","#8000A8","#FF1414","#FF1414","#FF1414","#FF5555","#FF5555","#FFBB00","#80FF00","#38FF00","#80FF00","#00FF40","#00FF80","#00FFC8","#00FF40","#38FF00","#00FF40","#8000A8","#8000A8","#8000A8","#0064FF","#0064FF","#0064FF","#0000DC"]}}}},
{"data":{"name":"isl"},"mark":{"type":"area","orient":"horizontal","clip":true},
"encoding":{"x":{"field":"a","type":"quantitative","stack":null,"axis":{"orient":"bottom","values":[0.477,0.602,0.699,1.301,1.477,1.602,1.699,2.301,2.477,2.602,2.699,3.301,3.477,3.602,3.699,4.301,4.477,4.602,4.699,5.301,5.477,5.602,5.699,6.301,6.477,6.602,6.699],"labels":false,"tickSize":-13,"tickWidth":2.5,"tickColor":"black","domain":false,"grid":false,"zindex":1,"title":"(Pa)","titleFont":"Liberation Sans","titleFontSize":39,"titleFontWeight":"normal","titleColor":"black","titleAngle":270,"titleX":-58,"titleY":60,"titleAlign":"center","titleBaseline":"middle"}},
"x2":{"field":"b"},
"y":{"field":"lat","type":"quantitative","axis":{"orient":"right","values":[-80,-70,-50,-40,-20,-10,10,20,40,50,70,80],"labels":false,"tickSize":-13,"tickWidth":2.5,"tickColor":"black","domain":false,"grid":false,"zindex":1,"title":"(degrees_north)","titleFont":"Liberation Sans","titleFontSize":41,"titleFontWeight":"normal","titleColor":"black","titleAngle":270,"titleX":112,"titleY":105,"titleAlign":"center","titleBaseline":"middle"}},
"color":{"field":"k","type":"nominal","legend":null,"scale":{"domain":["a00","a01","a02","a03","a04","a05","a06","a07","a08","a09","a10","a11","a12","a13","a14","a15","a16","a17","a18","a19","a20","a21","a22","a23","a24","a25","a26","a27","a28","a29","a30","a31","a32","a33","a34","a35","a36","a37","a38","a39","a40","a41","n1","n2","n3","k1","k2","x1","x2","x3","n4","n5","x4","n6","n7","k3","n8","xp1","xp2","k4","n9","n10","n11","n12"],
"range":["#1E00A0","#0000DC","#1E00A0","#0000DC","#1E00A0","#0000DC","#0020FF","#0000DC","#1E00A0","#0000DC","#0020FF","#0064FF","#00A8FF","#00F0FF","#00FFC8","#00FF80","#00FF40","#00FF00","#38FF00","#80FF00","#BBFF00","#FFFF00","#FFBB00","#FF7B00","#FF3700","#FF7B00","#FFBB00","#FFFF00","#BBFF00","#80FF00","#38FF00","#00FF00","#00FF40","#00FF80","#00FFC8","#00F0FF","#00A8FF","#0064FF","#0020FF","#0000DC","#1E00A0","#8000A8","#FF1414","#FF1414","#FF1414","#FF5555","#FF5555","#FFBB00","#80FF00","#38FF00","#80FF00","#00FF40","#00FF80","#00FFC8","#00FF40","#38FF00","#00FF40","#8000A8","#8000A8","#8000A8","#0064FF","#0064FF","#0064FF","#0000DC"]}}}},
{"data":{"name":"main"},"transform":[{"filter":{"field":"k","oneOf":["a01","a02","a03","a04","a05","a08","a09","a11","a13","a15","a17","a19","a21","a23","a26","a28","a30","a32","a34","a36","a38","a40","a41"]}}],"mark":{"type":"line","clip":true,"stroke":"black","strokeWidth":2.3,"strokeCap":"round"},
"encoding":{"x":{"field":"p","type":"quantitative","axis":{"orient":"top","values":[1,2,3,4,5,6],"labels":false,"tickSize":-25,"tickWidth":5,"tickColor":"black","domain":true,"domainWidth":5,"domainColor":"black","grid":false,"zindex":1,"title":null}},
"y":{"field":"lat","type":"quantitative","axis":{"orient":"left","values":[-90,-60,-30,0,30,60,90],"labels":false,"tickSize":-25,"tickWidth":5,"tickColor":"black","domain":true,"domainWidth":5,"domainColor":"black","grid":false,"zindex":1,"title":null}},
"detail":{"field":"k"},"order":{"field":"lat"}}},
{"data":{"name":"main"},"transform":[{"filter":{"field":"k","oneOf":["a06","a07","a10","a12","a14","a16","a18","a20","a22","a24","a25","a27","a29","a31","a33","a35","a37","a39"]}}],"mark":{"type":"line","clip":true,"stroke":"black","strokeWidth":4.6,"strokeCap":"round"},
"encoding":{"x":{"field":"p","type":"quantitative","axis":{"orient":"top","values":[0.477,0.602,0.699,1.301,1.477,1.602,1.699,2.301,2.477,2.602,2.699,3.301,3.477,3.602,3.699,4.301,4.477,4.602,4.699,5.301,5.477,5.602,5.699,6.301,6.477,6.602,6.699],"labels":false,"tickSize":-13,"tickWidth":2.5,"tickColor":"black","domain":false,"grid":false,"zindex":1,"title":null}},
"y":{"field":"lat","type":"quantitative","axis":{"orient":"left","values":[-80,-70,-50,-40,-20,-10,10,20,40,50,70,80],"labels":false,"tickSize":-13,"tickWidth":2.5,"tickColor":"black","domain":false,"grid":false,"zindex":1,"title":null}},
"detail":{"field":"k"},"order":{"field":"lat"}}},
{"data":{"name":"isl"},"transform":[{"filter":"test(/^n/,datum.k)"},{"fold":["a","b"],"as":["side","p"]}],"mark":{"type":"line","clip":true,"stroke":"black","strokeWidth":2.3,"strokeCap":"round"},
"encoding":{"x":{"field":"p","type":"quantitative","axis":null},"y":{"field":"lat","type":"quantitative","axis":null},"detail":[{"field":"k"},{"field":"side"}],"order":{"field":"lat"}}},
{"data":{"name":"isl"},"transform":[{"filter":"test(/^k/,datum.k)"},{"fold":["a","b"],"as":["side","p"]}],"mark":{"type":"line","clip":true,"stroke":"black","strokeWidth":4.6,"strokeCap":"round"},
"encoding":{"x":{"field":"p","type":"quantitative","axis":null},"y":{"field":"lat","type":"quantitative","axis":null},"detail":[{"field":"k"},{"field":"side"}],"order":{"field":"lat"}}},
{"data":{"name":"thick"},"mark":{"type":"line","clip":true,"stroke":"black","strokeWidth":4.6,"strokeCap":"round"},
"encoding":{"x":{"field":"p","type":"quantitative","axis":null},"y":{"field":"lat","type":"quantitative","axis":null},"detail":{"field":"s"},"order":{"field":"lat"}}},
{"data":{"name":"thin"},"mark":{"type":"line","clip":true,"stroke":"black","strokeWidth":2.3,"strokeCap":"round"},
"encoding":{"x":{"field":"p","type":"quantitative","axis":null},"y":{"field":"lat","type":"quantitative","axis":null},"detail":{"field":"s"},"order":{"field":"lat"}}},
{"data":{"name":"labels"},"mark":{"type":"text","font":"Liberation Sans","fontSize":40,"color":"black","align":"center","baseline":"middle"},
"encoding":{"x":{"field":"p","type":"quantitative","axis":null},"y":{"field":"lat","type":"quantitative","axis":null},"text":{"field":"t"},"angle":{"field":"r","type":"quantitative","scale":null}}}
]}
],"spacing":-5}
